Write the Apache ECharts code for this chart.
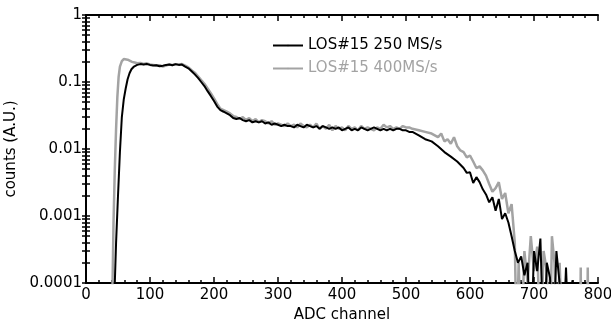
<!DOCTYPE html>
<html>
<head>
<meta charset="utf-8">
<script src="https://cdn.jsdelivr.net/npm/echarts@6/dist/echarts.min.js"></script>
<style>
  html, body { margin: 0; padding: 0; background: #fff; }
  #chart { width: 611px; height: 325px; }
</style>
</head>
<body>
<div id="chart"></div>
<script>
// channel / counts pairs (1e-5 = below the axis floor)
const blackCh = [40, 44, 47, 50, 53, 56, 59, 62, 65, 68, 71, 75, 80, 85, 90, 95, 100, 105, 110, 115, 120, 125, 130, 135, 140, 145, 150,
  155, 160, 165, 170, 175, 180, 185, 190, 195, 200, 205, 210, 215, 220, 225, 230,
  235, 240, 245, 250, 255, 260, 265, 270, 275, 280, 285, 290, 295, 300, 305, 310, 315, 320, 325, 330, 335, 340, 345, 350,
  355, 360, 365, 370, 375, 380, 385, 390, 395, 400, 405, 410, 415, 420, 425, 430, 435, 440, 445, 450, 455, 460, 465, 470,
  475, 480, 485, 490, 495, 500, 505, 510, 520, 530, 540, 550, 560, 570, 580, 590, 595, 600, 605, 610, 615, 620, 625, 630,
  635, 640, 645, 650, 655, 660, 665, 670, 675, 680, 685, 690, 695, 700, 705, 710, 715, 720, 725, 730, 735, 740, 745, 750,
  755, 760, 765, 800];
const blackVal = [0.00001, 0.00005, 0.0004, 0.002, 0.009, 0.03, 0.055, 0.08, 0.11, 0.135, 0.155, 0.17, 0.18, 0.185, 0.182, 0.186, 0.18, 0.176, 0.178, 0.172, 0.175, 0.18, 0.183, 0.178, 0.185, 0.18, 0.182,
  0.17, 0.16, 0.145, 0.13, 0.115, 0.1, 0.087, 0.073, 0.062, 0.052, 0.043, 0.038, 0.036, 0.034, 0.032, 0.029,
  0.028, 0.029, 0.027, 0.026, 0.027, 0.025, 0.026, 0.025, 0.026, 0.024, 0.025, 0.023, 0.024, 0.023, 0.022, 0.023, 0.022, 0.022, 0.021, 0.023, 0.022, 0.021, 0.023, 0.022,
  0.021, 0.022, 0.02, 0.022, 0.021, 0.02, 0.021, 0.02, 0.021, 0.019, 0.02, 0.021, 0.019, 0.02, 0.019, 0.021, 0.02, 0.019, 0.02, 0.021, 0.02, 0.019, 0.02, 0.019,
  0.02, 0.019, 0.02, 0.02, 0.019, 0.019, 0.018, 0.018, 0.016, 0.014, 0.013, 0.011, 0.009, 0.0077, 0.0065, 0.0052, 0.0044, 0.0045, 0.0031, 0.0038, 0.0032, 0.0025, 0.0021, 0.0016,
  0.0019, 0.0012, 0.0018, 0.0009, 0.0011, 0.0008, 0.0005, 0.0003, 0.0002, 0.00025, 0.00013, 0.0002, 0.00001, 0.0003, 0.00015, 0.00046, 0.00001, 0.0002, 0.00012, 0.00001, 0.0003, 0.0001, 0.00001, 0.00017,
  0.00001, 0.00011, 0.00001, 0.00001];

const grayCh = [38, 41, 43, 45, 47, 49, 51, 53, 56, 59, 62, 65, 68, 72, 76, 80, 85, 90, 95, 100, 105, 110, 115, 120, 125, 130, 135, 140, 145, 150,
  155, 160, 165, 170, 175, 180, 185, 190, 195, 200, 205, 210, 215, 220, 225, 230,
  235, 240, 245, 250, 255, 260, 265, 270, 275, 280, 285, 290, 295, 300, 305, 310, 315, 320, 325, 330, 335, 340, 345, 350,
  355, 360, 365, 370, 375, 380, 385, 390, 395, 400, 405, 410, 415, 420, 425, 430, 435, 440, 445, 450, 455, 460, 465, 470,
  475, 480, 485, 490, 495, 500, 505, 510, 520, 530, 540, 545, 550, 555, 560, 565, 570, 575, 580, 585, 590, 595, 600, 605,
  610, 615, 620, 625, 630, 635, 640, 645, 650, 655, 660, 665, 670, 673, 676, 680, 685, 690, 695, 700, 705, 710, 715, 720,
  725, 728, 732, 736, 740, 745, 772, 773, 774, 783, 784, 785, 800];
const grayVal = [0.00001, 0.00005, 0.0008, 0.005, 0.02, 0.06, 0.12, 0.17, 0.205, 0.22, 0.222, 0.215, 0.21, 0.2, 0.195, 0.19, 0.192, 0.186, 0.19, 0.183, 0.18, 0.176, 0.178, 0.17, 0.176, 0.182, 0.18, 0.184, 0.182, 0.185,
  0.175, 0.165, 0.15, 0.138, 0.122, 0.107, 0.094, 0.08, 0.068, 0.057, 0.047, 0.04, 0.038, 0.036, 0.034, 0.031,
  0.03, 0.028, 0.03, 0.027, 0.029, 0.026, 0.028, 0.025, 0.027, 0.026, 0.024, 0.026, 0.023, 0.024, 0.023, 0.022, 0.024, 0.022, 0.023, 0.021, 0.024, 0.022, 0.021, 0.023,
  0.021, 0.024, 0.02, 0.022, 0.02, 0.023, 0.019, 0.022, 0.02, 0.021, 0.019, 0.022, 0.02, 0.021, 0.019, 0.022, 0.02, 0.021, 0.02, 0.019, 0.021, 0.02, 0.023, 0.021,
  0.022, 0.02, 0.021, 0.02, 0.022, 0.021, 0.021, 0.02, 0.019, 0.018, 0.017, 0.016, 0.015, 0.017, 0.013, 0.014, 0.012, 0.015, 0.011, 0.0095, 0.009, 0.0075, 0.008, 0.0065,
  0.0052, 0.0055, 0.0048, 0.004, 0.003, 0.0023, 0.0026, 0.0032, 0.0018, 0.0022, 0.0011, 0.0015, 0.0004, 0.00001, 0.0002, 0.00001, 0.0003, 0.0001, 0.0005, 0.00015, 0.00035, 0.00001, 0.0003, 0.00015,
  0.00001, 0.0005, 0.0002, 0.00001, 0.0002, 0.00001, 0.00001, 0.00017, 0.00001, 0.00001, 0.00017, 0.00001, 0.00001];

const yLabelVals = [0.0001, 0.001, 0.01, 0.1, 1];
// decade ticks plus the 2..9 minor ticks of each decade
const yTickVals = [1];
for (let d = 0; d < 4; d++) {
  for (let m = 1; m <= 9; m++) yTickVals.push(+(m * yLabelVals[d]).toPrecision(2));
}

const seriesNames = ['LOS#15 250 MS/s', 'LOS#15 400MS/s'];
const font = 'DejaVu Sans';

const zip = (xs, ys) => xs.map((x, i) => [x, ys[i]]);

const chart = echarts.init(document.getElementById('chart'));

const logAxis = (pos, extra) => Object.assign({
  type: 'log',
  logBase: 10,
  position: pos,
  min: 0.0001,
  max: 1,
  axisLine: { show: true, lineStyle: { color: '#000', width: 2 } },
  splitLine: { show: false },
  axisLabel: { show: false },
  axisTick: { show: true, inside: true, length: 4, lineStyle: { color: '#000', width: 1.5 }, customValues: yTickVals }
}, extra);

const linAxis = (pos, extra) => Object.assign({
  type: 'value',
  position: pos,
  min: 0,
  max: 800,
  interval: 100,
  axisLine: { show: true, onZero: false, lineStyle: { color: '#000', width: 2 } },
  splitLine: { show: false },
  axisLabel: { show: false },
  axisTick: { show: true, inside: true, length: 6, lineStyle: { color: '#000', width: 1.5 } },
  minorTick: { show: true, splitNumber: 5, length: 3, lineStyle: { color: '#000', width: 1.5 } }
}, extra);

chart.setOption({
  animation: false,
  grid: { left: 86, right: 13, top: 15, bottom: 42, outerBoundsMode: 'none' },
  legend: {
    orient: 'vertical',
    left: 267,
    top: 33,
    itemWidth: 30,
    itemHeight: 2,
    itemGap: 8,
    textStyle: { fontFamily: font, fontSize: 15, color: '#000' },
    data: [
      { name: seriesNames[0] },
      { name: seriesNames[1], textStyle: { color: '#a3a3a3' } }
    ]
  },
  xAxis: [
    linAxis('bottom', {
      name: 'ADC channel',
      nameLocation: 'middle',
      nameGap: 20,
      nameTextStyle: { fontFamily: font, fontSize: 15, color: '#000' },
      axisLabel: { show: true, margin: 5, fontFamily: font, fontSize: 15, color: '#000' }
    }),
    linAxis('top', {})
  ],
  yAxis: [
    logAxis('left', {
      name: 'counts (A.U.)',
      nameLocation: 'middle',
      nameGap: 66,
      nameTextStyle: { fontFamily: font, fontSize: 15, color: '#000' },
      axisLabel: { show: true, margin: 4, fontFamily: font, fontSize: 15, color: '#000', customValues: yLabelVals }
    }),
    logAxis('right', {})
  ],
  series: [
    {
      name: seriesNames[0],
      type: 'line',
      xAxisIndex: 0,
      yAxisIndex: 0,
      symbol: 'none',
      data: zip(blackCh, blackVal),
      lineStyle: { color: '#000', width: 2 },
      itemStyle: { color: '#000' },
      z: 3
    },
    {
      name: seriesNames[1],
      type: 'line',
      xAxisIndex: 0,
      yAxisIndex: 0,
      symbol: 'none',
      data: zip(grayCh, grayVal),
      lineStyle: { color: '#a3a3a3', width: 2.5 },
      itemStyle: { color: '#a3a3a3' },
      z: 2
    }
  ]
});
</script>
</body>
</html>
